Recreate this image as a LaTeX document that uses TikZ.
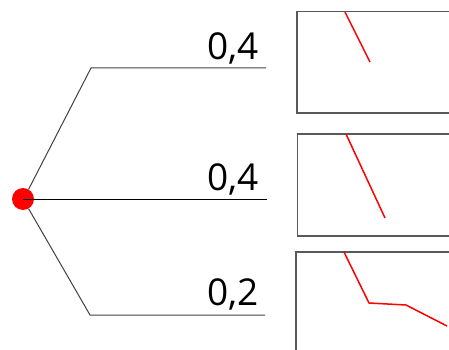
\documentclass[tikz,border=0pt]{standalone}
\usepackage{fontspec}
\setmainfont{Open Sans}
\begin{document}
\begin{tikzpicture}[x=1pt,y=-1pt,
  branch/.style={draw=black!75, line width=1pt},
  frame/.style={draw=black!65, line width=1.5pt},
  curve/.style={draw=red, line width=1.5pt},
  prob/.style={anchor=base east, inner sep=0pt, font=\fontsize{37}{37}\selectfont}]
\useasboundingbox (0,0) rectangle (449,350);
% tree
\node[circle, fill=red, minimum size=22pt, inner sep=0pt] (root) at (23,199) {};
\coordinate (u1) at (91,68);
\coordinate (u2) at (266,68);
\coordinate (m2) at (267,199);
\coordinate (l1) at (90,315);
\coordinate (l2) at (265,315);
\draw[branch] (root.60) -- (u1) -- (u2);
\draw[branch, draw=black] (root.center) -- (m2);
\draw[branch] (root.-60) -- (l1) -- (l2);
\node[prob] (p1) at (259,60) {0,4};
\node[prob] (p2) at (259,190) {0,4};
\node[prob] (p3) at (259,305) {0,2};
% boxes
\draw[frame] (460,11.5) -- (297,11.5) -- (297,113) -- (460,113);
\draw[frame] (460,134) -- (297.5,134) -- (297.5,236) -- (460,236);
\draw[frame] (460,252) -- (296,252) -- (296,360);
% curves
\draw[curve] (345,12) -- (370,62);
\draw[curve] (346,134) -- (385,218);
\draw[curve, line join=round] (344,252) -- (369,303) -- (406,305) -- (447,326);
\end{tikzpicture}
\end{document}
